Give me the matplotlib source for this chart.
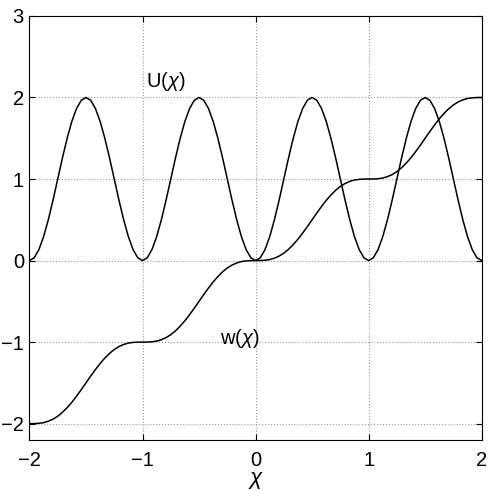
import numpy as np
import matplotlib
matplotlib.use("Agg")
import matplotlib.pyplot as plt

plt.rcParams['font.family'] = ['Liberation Sans', 'DejaVu Sans']
plt.rcParams['mathtext.fontset'] = 'custom'
plt.rcParams['mathtext.rm'] = 'Liberation Sans'
plt.rcParams['mathtext.it'] = 'Liberation Sans:italic'

# one period of each curve, read at steps of 1/24 in chi
u_period = [0.0, 0.034, 0.134, 0.293, 0.5, 0.741, 1.0, 1.259, 1.5, 1.707, 1.866, 1.966,
            2.0, 1.966, 1.866, 1.707, 1.5, 1.259, 1.0, 0.741, 0.5, 0.293, 0.134, 0.034]
w_period = [0.0, 0.0005, 0.004, 0.012, 0.029, 0.055, 0.091, 0.138, 0.196, 0.262, 0.337, 0.417,
            0.5, 0.583, 0.663, 0.738, 0.804, 0.862, 0.909, 0.945, 0.971, 0.988, 0.996, 0.9995]
steps = [-2, -1, 0, 1]

chi = np.linspace(-2, 2, 24 * len(steps) + 1)
U = u_period * len(steps) + [u_period[0]]
w = [s + p for s in steps for p in w_period] + [steps[-1] + 1]

x_ticks = [-2, -1, 0, 1, 2]
y_ticks = [-2, -1, 0, 1, 2, 3]

fig = plt.figure(figsize=(4.91, 4.91), dpi=100)
ax = fig.add_axes([0.060, 0.104, 0.921, 0.8635])

ax.plot(chi, U, color='black', linewidth=1.1)
ax.plot(chi, w, color='black', linewidth=1.1)

ax.set_xlim(-2, 2)
ax.set_ylim(-2.2, 3)
ax.set_xticks(x_ticks)
ax.set_yticks(y_ticks)
ax.grid(True, linestyle=':', color='#999999', linewidth=0.8)
ax.tick_params(direction='in', length=4.5, width=0.8, labelsize=14.5,
               top=True, right=True)
ax.tick_params(axis='x', pad=8)
ax.tick_params(axis='y', pad=4)
for sp in ax.spines.values():
    sp.set_linewidth(0.8)

ax.text(-0.79, 2.2, r'U($\chi$)', fontsize=14.5, ha='center', va='center')
ax.text(-0.14, -0.96, r'w($\chi$)', fontsize=14.5, ha='center', va='center')
ax.set_xlabel(r'$\chi$', fontsize=16, labelpad=0)

fig.savefig('out.png', dpi=100)
